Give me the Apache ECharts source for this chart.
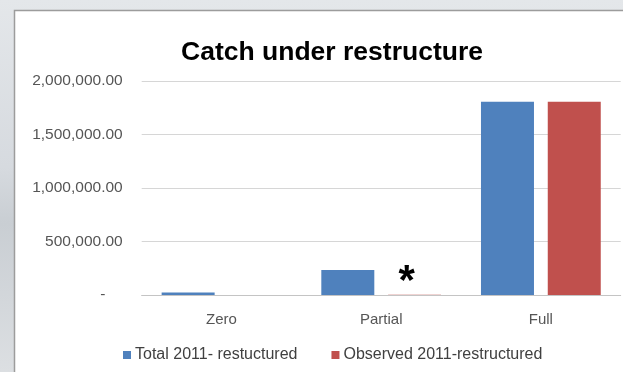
<!DOCTYPE html>
<html>
<head>
<meta charset="utf-8">
<script src="https://cdn.jsdelivr.net/npm/echarts@6/dist/echarts.min.js"></script>
<style>
  html, body { margin: 0; padding: 0; }
  body {
    width: 623px; height: 372px; overflow: hidden;
    background: linear-gradient(180deg, #e4e7ea 0%, #d6dadf 45%, #c9ced3 60%, #dcdfe2 100%);
  }
  #chart { width: 623px; height: 372px; }
</style>
</head>
<body>
<div id="chart"></div>
<script>
// Catch by restructuring category
const categories = ['Zero', 'Partial', 'Full'];
const totalRestructured = [23000, 233000, 1805000];
const observedRestructured = [0, 3000, 1805000];
const seriesNames = ['Total 2011- restuctured', 'Observed 2011-restructured'];
const yTicks = { min: 0, max: 2000000, interval: 500000 };

const fmt = v => v === 0 ? '-    ' :
  v.toLocaleString('en-US', { minimumFractionDigits: 2, maximumFractionDigits: 2 });

const chart = echarts.init(document.getElementById('chart'), null, { renderer: 'canvas' });
const font = '"Liberation Sans", Arial, sans-serif';

chart.setOption({
  animation: false,
  backgroundColor: 'transparent',
  graphic: [{
    type: 'rect', z: -10, silent: true,
    shape: { x: 14.5, y: 10.5, width: 620, height: 370 },
    style: { fill: '#ffffff', stroke: '#9c9c9c', lineWidth: 1.5 }
  }],
  title: {
    text: 'Catch under restructure',
    left: 327, top: 34, textAlign: 'center',
    textStyle: { fontFamily: font, fontWeight: 'bold', fontSize: 26.5, color: '#000000' }
  },
  legend: {
    left: 118, top: 342,
    itemWidth: 8, itemHeight: 8, itemGap: 34,
    icon: 'rect',
    textStyle: { fontFamily: font, fontSize: 16, color: '#404040', padding: [0, 0, 0, -1] },
    data: seriesNames
  },
  grid: { left: 141.7, right: 2.3, top: 81, bottom: 77 },
  xAxis: {
    type: 'category', data: categories,
    axisLine: { lineStyle: { color: '#c4c4c4', width: 1 } },
    axisTick: { show: false },
    axisLabel: { fontFamily: font, fontSize: 15, color: '#555555', margin: 17 }
  },
  yAxis: {
    type: 'value', min: yTicks.min, max: yTicks.max, interval: yTicks.interval,
    axisLine: { show: false }, axisTick: { show: false },
    splitLine: { lineStyle: { color: '#d6d6d6', width: 1 } },
    axisLabel: { fontFamily: font, fontSize: 15.5, color: '#555555', margin: 19, formatter: fmt }
  },
  series: [
    {
      name: seriesNames[0], type: 'bar', data: totalRestructured,
      barWidth: 53, barGap: '26%',
      itemStyle: { color: '#4f81bd' }
    },
    {
      name: seriesNames[1], type: 'bar', data: observedRestructured,
      barWidth: 53,
      itemStyle: { color: '#c0504d' },
      label: {
        show: true, position: 'top', distance: -9, offset: [-8, 0],
        fontFamily: font, fontWeight: 'bold', fontSize: 42, color: '#000000',
        formatter: p => p.dataIndex === 1 ? '*' : ''
      }
    }
  ]
});
</script>
</body>
</html>
